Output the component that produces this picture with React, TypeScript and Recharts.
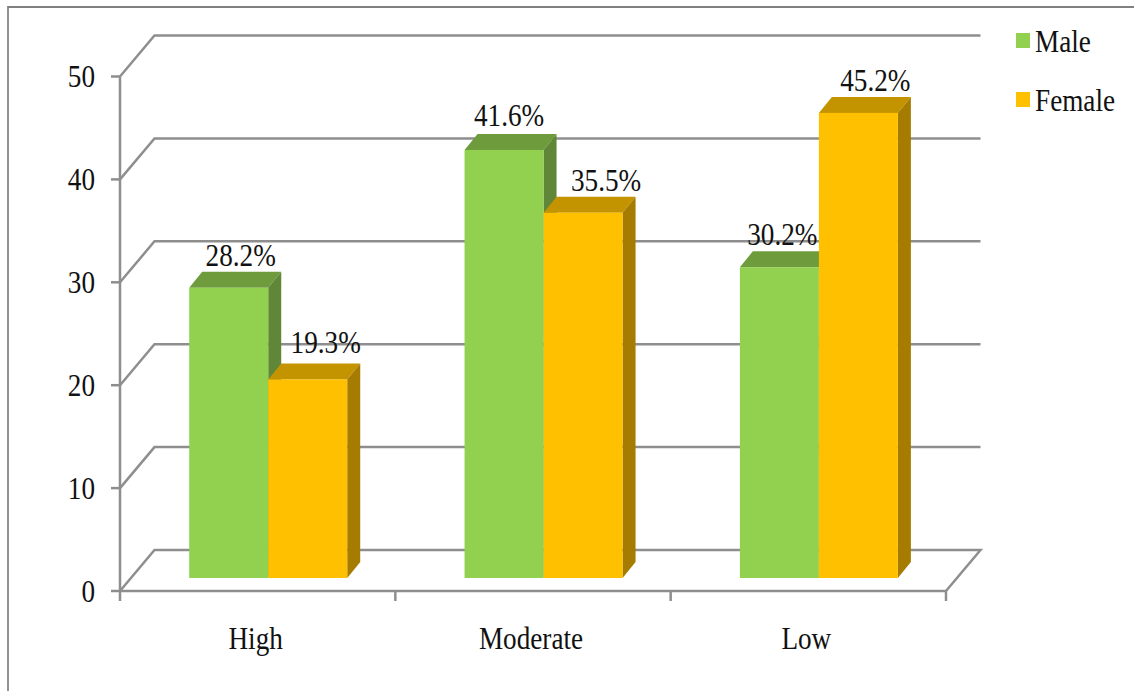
import React from "react"
import { BarChart, Bar, XAxis, YAxis, CartesianGrid, LabelList, Legend } from "recharts"

const categories = ["High", "Moderate", "Low"]
const maleValues = [28.2, 41.6, 30.2]
const femaleValues = [19.3, 35.5, 45.2]
const yTicks = [0, 10, 20, 30, 40, 50]

const chartData = categories.map((name, i) => ({
  name,
  male: maleValues[i],
  female: femaleValues[i],
}))

const WIDTH = 1134
const HEIGHT = 691
const MARGIN = { top: 76.5, right: 188, bottom: 0, left: 0 }
const AXIS_X_HEIGHT = 100
const AXIS_Y_WIDTH = 120
const BAND = (WIDTH - MARGIN.left - MARGIN.right - AXIS_Y_WIDTH) / categories.length
const PLOT_BOTTOM = HEIGHT - AXIS_X_HEIGHT

// depth of the back wall and of the bars, plus how far bars sit inside the floor
const WALL_DX = 34.5
const WALL_DY = 41
const BAR_DX = 13
const BAR_DY = 16
const FLOOR_DX = 10.3
const FLOOR_DY = 13

const LINE = "#8e8e8e"
const LINE_W = 2.5
const FONT = "'Liberation Serif', 'Times New Roman', serif"
const FONT_SIZE = 32
const SQUEEZE = 0.85

// per-label tweaks so the percentages clear the neighbouring bars
const maleLabelNudge = [{ dx: -1, dy: -6 }, { dx: -8, dy: -8 }, { dx: -10, dy: -6 }]
const femaleLabelNudge = [{ dx: 5, dy: -10 }, { dx: 10, dy: -6 }, { dx: 4, dy: -6 }]

const Squeezed = ({ x, y, anchor, children }: any) => (
  <text
    transform={`translate(${x},${y}) scale(${SQUEEZE},1)`}
    textAnchor={anchor}
    fontFamily={FONT}
    fontSize={FONT_SIZE}
    fill="#111"
  >
    {children}
  </text>
)

const GridLine = ({ x1, y1, x2 }: any) => {
  const backY = y1 - WALL_DY
  const isFloor = y1 >= PLOT_BOTTOM - 1
  const points = [
    `${x1},${y1}`,
    `${x1 + WALL_DX},${backY}`,
    `${x2 + WALL_DX},${backY}`,
    ...(isFloor ? [`${x2},${y1}`] : []),
  ]
  return <polyline points={points.join(" ")} fill="none" stroke={LINE} strokeWidth={LINE_W} />
}

const YTick = ({ y, payload }: any) => (
  <Squeezed x={95} y={y + 10.5} anchor="end">
    {payload.value}
  </Squeezed>
)

// tick marks sit on the category boundaries, labels in the middle of each band
const XTick = ({ x, payload, index }: any) => {
  const top = PLOT_BOTTOM
  const isLast = index === categories.length - 1
  return (
    <g>
      <line x1={x - BAND / 2} x2={x - BAND / 2} y1={top} y2={top + 10} stroke={LINE} strokeWidth={LINE_W} />
      {isLast && (
        <line x1={x + BAND / 2} x2={x + BAND / 2} y1={top} y2={top + 10} stroke={LINE} strokeWidth={LINE_W} />
      )}
      <Squeezed x={x - 2} y={649} anchor="middle">
        {payload.value}
      </Squeezed>
    </g>
  )
}

const Bar3D = ({ x, y, width, height, fill, topFill, sideFill }: any) => {
  const left = x + FLOOR_DX
  const right = left + width
  const top = y - FLOOR_DY
  const bottom = top + height
  return (
    <g>
      <polygon
        points={`${left},${top} ${left + BAR_DX},${top - BAR_DY} ${right + BAR_DX},${top - BAR_DY} ${right},${top}`}
        fill={topFill}
      />
      <polygon
        points={`${right},${top} ${right + BAR_DX},${top - BAR_DY} ${right + BAR_DX},${bottom - BAR_DY} ${right},${bottom}`}
        fill={sideFill}
      />
      <rect x={left} y={top} width={width} height={height} fill={fill} />
    </g>
  )
}

const barLabel = (nudge: { dx: number; dy: number }[]) => ({ x, y, width, value, index }: any) => {
  const { dx, dy } = nudge[index]
  return (
    <Squeezed
      x={x + FLOOR_DX + BAR_DX + width / 2 + dx}
      y={y - FLOOR_DY - BAR_DY + dy}
      anchor="middle"
    >
      {`${Number(value).toFixed(1)}%`}
    </Squeezed>
  )
}

const LegendBox = ({ payload }: any) => (
  <div>
    {(payload ?? []).map((item: any) => (
      <div key={item.value} style={{ position: "relative", height: 59 }}>
        <div style={{ position: "absolute", left: 0, top: 0, width: 14, height: 15, background: item.color }} />
        <span
          style={{
            position: "absolute",
            left: 19,
            top: -10,
            fontFamily: FONT,
            fontSize: FONT_SIZE,
            color: "#111",
            transform: `scaleX(${SQUEEZE})`,
            transformOrigin: "left top",
            whiteSpace: "nowrap",
          }}
        >
          {item.value}
        </span>
      </div>
    ))}
  </div>
)

export default function App() {
  return (
    <div style={{ position: "absolute", left: 0, top: 0, width: WIDTH, height: HEIGHT, overflow: "hidden", background: "#fff" }}>
      <div
        style={{
          position: "absolute",
          left: 7,
          top: 6,
          right: 0,
          bottom: 0,
          borderTop: "2.5px solid #808080",
          borderLeft: "2.5px solid #929292",
        }}
      />
      <BarChart
        width={WIDTH}
        height={HEIGHT}
        data={chartData}
        margin={MARGIN}
        barCategoryGap="21.4%"
        barGap={0}
        style={{ position: "absolute", left: 0, top: 0 }}
      >
        <CartesianGrid vertical={false} horizontal={(props: any) => <GridLine key={props.y1} {...props} />} />
        <XAxis
          dataKey="name"
          height={AXIS_X_HEIGHT}
          tickLine={false}
          axisLine={{ stroke: LINE, strokeWidth: LINE_W }}
          tick={XTick}
          interval={0}
        />
        <YAxis
          width={AXIS_Y_WIDTH}
          domain={[0, 50]}
          ticks={yTicks}
          tickSize={9}
          tickLine={{ stroke: LINE, strokeWidth: LINE_W }}
          axisLine={{ stroke: LINE, strokeWidth: LINE_W }}
          tick={YTick}
        />
        <Legend
          layout="vertical"
          align="center"
          verticalAlign="middle"
          itemSorter={null}
          content={LegendBox}
          wrapperStyle={{ position: "absolute", left: 1016, top: 33, width: 110 }}
        />
        <Bar
          dataKey="male"
          name="Male"
          fill="#92D050"
          isAnimationActive={false}
          shape={(p: any) => <Bar3D {...p} topFill="#6E9B3C" sideFill="#5F8737" />}
        >
          <LabelList dataKey="male" content={barLabel(maleLabelNudge)} />
        </Bar>
        <Bar
          dataKey="female"
          name="Female"
          fill="#FFC000"
          isAnimationActive={false}
          shape={(p: any) => <Bar3D {...p} topFill="#C49300" sideFill="#A67C00" />}
        >
          <LabelList dataKey="female" content={barLabel(femaleLabelNudge)} />
        </Bar>
      </BarChart>
    </div>
  )
}
